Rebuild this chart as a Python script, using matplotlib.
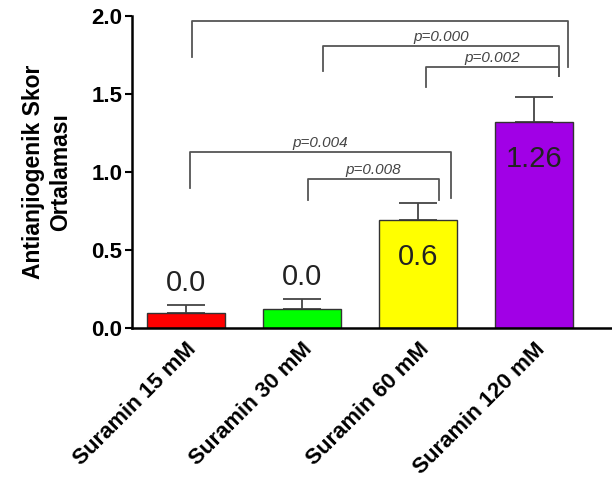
import numpy as np
import matplotlib.pyplot as plt

plt.rcParams['font.family'] = ['Liberation Sans', 'DejaVu Sans']

# --- Données ---
groups = ['Suramin 15 mM', 'Suramin 30 mM', 'Suramin 60 mM', 'Suramin 120 mM']
means = [0.094, 0.12, 0.69, 1.32]
errors = [0.053, 0.064, 0.11, 0.16]
bar_labels = ['0.0', '0.0', '0.6', '1.26']
label_inside = [False, False, True, True]
colors = ['#ff0000', '#00ff00', '#ffff00', '#a100e6']

# comparaisons : (x gauche, x droite, hauteur, fin jambe gauche, fin jambe droite, texte)
bracket_x0 = [0.05, 1.18, 2.07, 0.03, 1.05]
bracket_x1 = [3.29, 3.21, 3.21, 2.28, 2.18]
bracket_y = [1.97, 1.81, 1.675, 1.13, 0.955]
bracket_left_end = [1.74, 1.65, 1.545, 0.895, 0.82]
bracket_right_end = [1.675, 1.615, 1.615, 0.835, 0.82]
bracket_text = ['', 'p=0.000', 'p=0.002', 'p=0.004', 'p=0.008']

fig = plt.figure(figsize=(6.12, 4.92), dpi=100)
ax = fig.add_axes([0.2157, 0.3333, 0.7823, 0.6342])

x = np.arange(len(groups))
ax.bar(x, means, width=0.67, color=colors, edgecolor='#333333', linewidth=1.0, zorder=2)
ax.errorbar(x, means, yerr=[np.zeros(len(errors)), errors], fmt='none',
            ecolor='#444444', elinewidth=1.3, capsize=14, capthick=1.3, zorder=1)

# valeurs sur les barres
for i in range(len(groups)):
    if label_inside[i]:
        ax.text(x[i], means[i] - 0.235, bar_labels[i], ha='center', va='center',
                fontsize=21, color='#222222')
    else:
        ax.text(x[i], means[i] + errors[i] + 0.055, bar_labels[i], ha='center', va='bottom',
                fontsize=21, color='#222222')

# crochets de significativité
for x0, x1, y, yl, yr, txt in zip(bracket_x0, bracket_x1, bracket_y,
                                  bracket_left_end, bracket_right_end, bracket_text):
    ax.plot([x0, x0, x1, x1], [yl, y, y, yr], color='#555555', lw=1.3, clip_on=False, zorder=3)
    if txt:
        ax.text((x0 + x1) / 2, y + 0.012, txt, ha='center', va='bottom', fontsize=11,
                style='italic', color='#444444')

ax.set_xlim(-0.466, 3.66)
ax.set_ylim(0, 2.0)
ax.set_yticks([0.0, 0.5, 1.0, 1.5, 2.0])
ax.set_yticklabels(['0.0', '0.5', '1.0', '1.5', '2.0'])
ax.set_xticks(x)
ax.set_xticklabels(groups, rotation=45, ha='right', rotation_mode='anchor')

for lab in ax.get_xticklabels() + ax.get_yticklabels():
    lab.set_fontweight('bold')
    lab.set_fontsize(16)

ax.tick_params(axis='x', length=0, pad=8)
ax.tick_params(axis='y', length=5, width=1.5, direction='out', pad=2)

ax.spines['top'].set_visible(False)
ax.spines['right'].set_visible(False)
ax.spines['left'].set_linewidth(1.8)
ax.spines['bottom'].set_linewidth(1.8)

ax.set_ylabel('Antianjiogenik Skor\nOrtalaması', fontsize=16.5, fontweight='bold', labelpad=14)

plt.savefig('out.png', dpi=100)
